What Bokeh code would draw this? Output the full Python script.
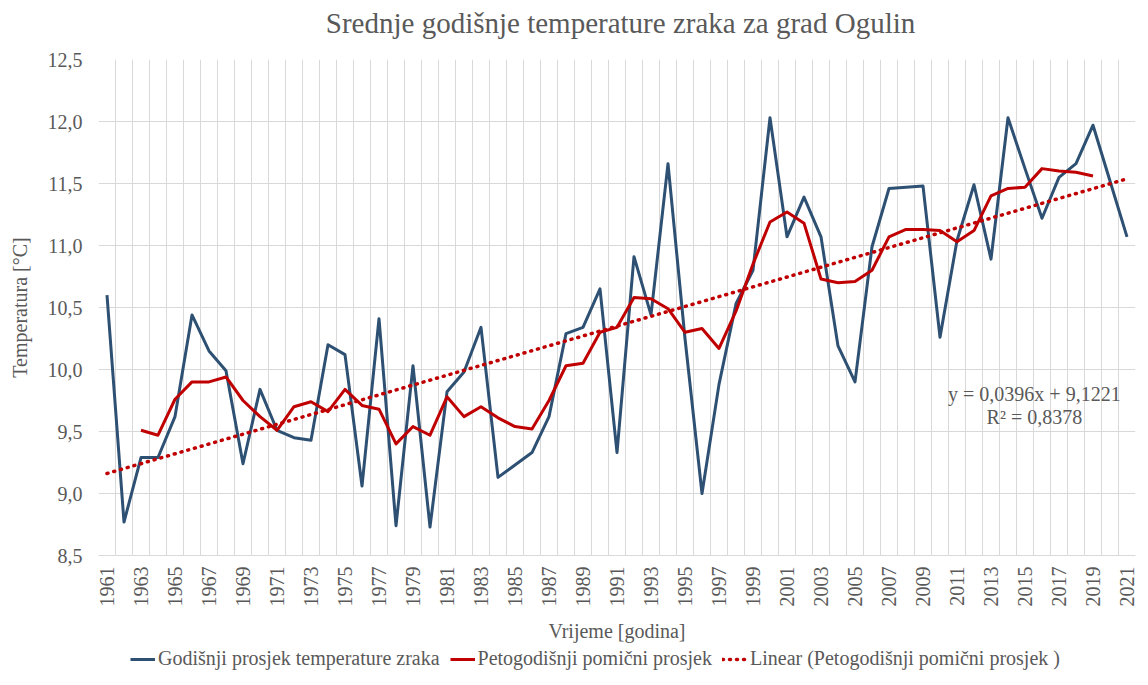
from bokeh.plotting import figure
from bokeh.models import (Range1d, FixedTicker, CustomJSTickFormatter, Legend, LegendItem,
                          Label, ColumnDataSource)
from bokeh.layouts import column
from bokeh.embed import file_html
from bokeh.resources import INLINE
import math

# ---- data ----
years = list(range(1961, 2022))
annual_temp = [10.60, 8.77, 9.29, 9.29, 9.62, 10.44, 10.15, 9.99, 9.24, 9.84,
               9.51, 9.45, 9.43, 10.20, 10.12, 9.06, 10.41, 8.74, 10.03, 8.73,
               9.82, 9.98, 10.34, 9.13, 9.23, 9.33, 9.62, 10.29, 10.34, 10.65,
               9.33, 10.91, 10.44, 11.66, 10.25, 9.00, 9.88, 10.53, 10.80, 12.03,
               11.07, 11.39, 11.07, 10.19, 9.90, 10.99, 11.46, 11.47, 11.48, 10.26,
               11.04, 11.49, 10.89, 12.03, 11.62, 11.22, 11.55, 11.66, 11.97, 11.52, 11.07]
ma_years = list(range(1963, 2020))
moving_avg = [9.51, 9.47, 9.76, 9.90, 9.90, 9.94, 9.75, 9.62, 9.51, 9.70,
              9.74, 9.66, 9.84, 9.71, 9.68, 9.40, 9.54, 9.47, 9.78, 9.62,
              9.70, 9.61, 9.54, 9.52, 9.75, 10.03, 10.05, 10.30, 10.34, 10.58,
              10.57, 10.49, 10.30, 10.33, 10.17, 10.47, 10.85, 11.19, 11.27, 11.18,
              10.73, 10.70, 10.71, 10.80, 11.07, 11.13, 11.13, 11.12, 11.03, 11.12,
              11.40, 11.46, 11.47, 11.62, 11.60, 11.59, 11.56]
trend_slope = 0.0396
trend_intercept = 9.1221
r_squared = 0.8378
trend_years = [1961, 2021]
trend_vals = [trend_intercept + trend_slope * (y - 1960) for y in trend_years]
x_tick_years = list(range(1961, 2022, 2))
y_ticks = [8.5, 9.0, 9.5, 10.0, 10.5, 11.0, 11.5, 12.0, 12.5]
title_text = "Srednje godišnje temperature zraka za grad Ogulin"
series_names = ["Godišnji prosjek temperature zraka",
                "Petogodišnji pomični prosjek",
                "Linear (Petogodišnji pomični prosjek )"]

FONT = "Liberation Serif"
TXT = "#595959"
GRID = "#d9d9d9"
BLUE = "#2D5073"
RED = "#C00000"
FS = "20px"


def strip(height):
    f = figure(width=1148, height=height, output_backend="svg", toolbar_location=None,
               x_range=Range1d(0, 1), y_range=Range1d(0, 1),
               x_axis_location=None, y_axis_location=None,
               min_border_left=0, min_border_right=0, min_border_top=0, min_border_bottom=0)
    f.outline_line_color = None
    f.xgrid.visible = False
    f.ygrid.visible = False
    return f


# ---- title strip ----
tf = strip(47)
tf.add_layout(Label(x=0.5034, y=0.53, text=title_text, text_font=FONT, text_font_size="29px",
                    text_color=TXT, text_align="center", text_baseline="middle"))

# ---- main chart ----
p = figure(frame_width=1037, frame_height=496, output_backend="svg", toolbar_location=None,
           x_range=Range1d(1960.5, 2021.5), y_range=Range1d(8.5, 12.5),
           min_border_left=98, min_border_right=13, min_border_top=12, min_border_bottom=84)
p.outline_line_color = None
p.background_fill_color = "white"
p.border_fill_color = "white"

p.xaxis.ticker = FixedTicker(ticks=x_tick_years)
p.xaxis.major_label_orientation = math.pi / 2
p.xaxis.major_label_text_font = FONT
p.xaxis.major_label_text_font_size = FS
p.xaxis.major_label_text_color = TXT
p.xaxis.major_tick_line_color = None
p.xaxis.minor_tick_line_color = None
p.xaxis.major_tick_in = 0
p.xaxis.major_tick_out = 0
p.xaxis.major_label_standoff = 11
p.xaxis.axis_line_color = GRID
p.xaxis.axis_label = "Vrijeme [godina]"
p.xaxis.axis_label_text_font = FONT
p.xaxis.axis_label_text_font_size = FS
p.xaxis.axis_label_text_font_style = "normal"
p.xaxis.axis_label_text_color = TXT
p.xaxis.axis_label_standoff = 10

p.yaxis.ticker = FixedTicker(ticks=y_ticks)
p.yaxis.formatter = CustomJSTickFormatter(code="return tick.toFixed(1).replace('.', ',');")
p.yaxis.major_label_text_font = FONT
p.yaxis.major_label_text_font_size = FS
p.yaxis.major_label_text_color = TXT
p.yaxis.major_tick_line_color = None
p.yaxis.minor_tick_line_color = None
p.yaxis.major_tick_in = 0
p.yaxis.major_tick_out = 0
p.yaxis.major_label_standoff = 16
p.yaxis.axis_line_color = None
p.yaxis.axis_label = "Temperatura [°C]"
p.yaxis.axis_label_text_font = FONT
p.yaxis.axis_label_text_font_size = FS
p.yaxis.axis_label_text_font_style = "normal"
p.yaxis.axis_label_text_color = TXT
p.yaxis.axis_label_standoff = 14

p.xgrid.ticker = FixedTicker(ticks=[y + 0.5 for y in range(1960, 2022)])
p.xgrid.grid_line_color = GRID
p.ygrid.grid_line_color = GRID

src_a = ColumnDataSource(dict(x=years, y=annual_temp))
src_m = ColumnDataSource(dict(x=ma_years, y=moving_avg))
src_t = ColumnDataSource(dict(x=trend_years, y=trend_vals))

STY_A = dict(line_color=BLUE, line_width=3, line_join="round")
STY_M = dict(line_color=RED, line_width=3, line_join="round")
STY_T = dict(line_color=RED, line_width=3.5, line_dash="1 6", line_cap="round")

p.line("x", "y", source=src_a, **STY_A)
p.line("x", "y", source=src_m, **STY_M)
p.line("x", "y", source=src_t, **STY_T)

fmt = lambda v, n: f"{v:.{n}f}".replace(".", ",")
p.add_layout(Label(x=2015.55, y=9.80, text=f"y = {fmt(trend_slope, 4)}x + {fmt(trend_intercept, 4)}",
                   text_font=FONT, text_font_size=FS, text_color=TXT,
                   text_align="center", text_baseline="middle"))
p.add_layout(Label(x=2015.55, y=9.62, text=f"R² = {fmt(r_squared, 4)}",
                   text_font=FONT, text_font_size=FS, text_color=TXT,
                   text_align="center", text_baseline="middle"))

# ---- legend strip (same series, out of this strip's view; only the legend shows) ----
lf = strip(46)
la = lf.line("x", "y", source=src_a, **STY_A)
lm = lf.line("x", "y", source=src_m, **STY_M)
lt = lf.line("x", "y", source=src_t, **STY_T)
legend = Legend(items=[
    LegendItem(label=series_names[0], renderers=[la]),
    LegendItem(label=series_names[1], renderers=[lm]),
    LegendItem(label=series_names[2], renderers=[lt]),
], orientation="horizontal", location=(32, 20),
    label_text_font=FONT, label_text_font_size=FS, label_text_color=TXT,
    glyph_width=25, glyph_height=18, label_standoff=3, spacing=10,
    border_line_color=None, background_fill_alpha=0, padding=0, margin=0)
lf.add_layout(legend, "center")

layout = column(tf, p, lf, spacing=0)

html = file_html(layout, INLINE)
with open("out.html", "w") as f:
    f.write(html)
